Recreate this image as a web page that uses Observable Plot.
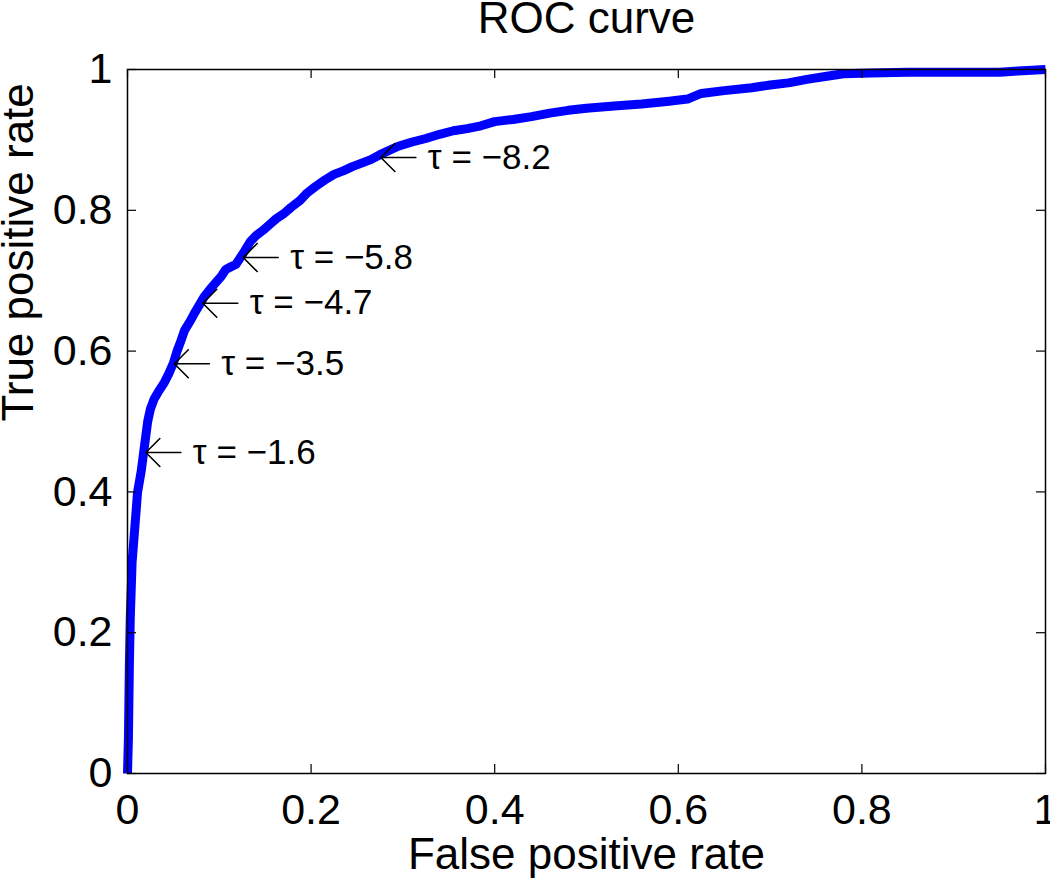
<!DOCTYPE html>
<html>
<head>
<meta charset="utf-8">
<script src="https://cdn.jsdelivr.net/npm/d3@7"></script>
<script src="https://cdn.jsdelivr.net/npm/@observablehq/plot@0.6"></script>
<style>
  html, body { margin: 0; padding: 0; background: white; }
</style>
</head>
<body>
<div id="chart"></div>
<script>
// ROC curve points (false positive rate, true positive rate)
const fpr = [0, 0.001, 0.002, 0.003, 0.005, 0.008, 0.011, 0.015, 0.018, 0.022, 0.025, 0.029, 0.033, 0.040, 0.045, 0.050, 0.054, 0.058, 0.062, 0.068, 0.073, 0.078, 0.083, 0.090, 0.096, 0.102, 0.107, 0.113, 0.118, 0.123, 0.128, 0.134, 0.140, 0.148, 0.155, 0.162, 0.170, 0.178, 0.188, 0.196, 0.205, 0.215, 0.225, 0.235, 0.245, 0.255, 0.265, 0.275, 0.285, 0.295, 0.310, 0.325, 0.340, 0.355, 0.370, 0.385, 0.400, 0.420, 0.440, 0.460, 0.480, 0.500, 0.530, 0.560, 0.590, 0.610, 0.625, 0.650, 0.680, 0.700, 0.720, 0.740, 0.760, 0.780, 0.810, 0.850, 0.900, 0.950, 0.970, 1.000];
const tpr = [0, 0.050, 0.150, 0.220, 0.300, 0.350, 0.400, 0.430, 0.460, 0.500, 0.518, 0.532, 0.541, 0.555, 0.568, 0.583, 0.600, 0.614, 0.629, 0.642, 0.654, 0.665, 0.676, 0.688, 0.697, 0.706, 0.716, 0.720, 0.723, 0.733, 0.743, 0.756, 0.764, 0.772, 0.780, 0.788, 0.795, 0.804, 0.814, 0.825, 0.834, 0.843, 0.851, 0.856, 0.862, 0.867, 0.872, 0.879, 0.885, 0.891, 0.897, 0.902, 0.908, 0.913, 0.916, 0.920, 0.926, 0.929, 0.933, 0.938, 0.942, 0.945, 0.948, 0.951, 0.955, 0.958, 0.966, 0.970, 0.974, 0.978, 0.981, 0.986, 0.990, 0.994, 0.995, 0.996, 0.996, 0.996, 0.998, 1.000];

// Threshold annotations
const tauLabels = ["τ = −1.6", "τ = −3.5", "τ = −4.7", "τ = −5.8", "τ = −8.2"];
const tauX = [0.020, 0.051, 0.082, 0.126, 0.276];
const tauY = [0.456, 0.582, 0.668, 0.733, 0.875];

// Ticks and labels
const xTicks = [0, 0.2, 0.4, 0.6, 0.8, 1];
const yTicks = [0, 0.2, 0.4, 0.6, 0.8, 1];
const titleText = "ROC curve";
const xLabel = "False positive rate";
const yLabel = "True positive rate";

const curve = fpr.map((x, i) => ({x, y: tpr[i]}));
const notes = tauLabels.map((t, i) => ({x: tauX[i], y: tauY[i], text: t}));

const W = 1050, H = 880;
const mL = 127, mR = 5, mT = 69, mB = 107;
const fw = W - mL - mR, fh = H - mT - mB;
const tickLen = 9;
const font = "'Liberation Sans', Arial, Helvetica, sans-serif";

const chart = Plot.plot({
  width: W, height: H,
  marginLeft: mL, marginRight: mR, marginTop: mT, marginBottom: mB,
  x: {domain: [0, 1]},
  y: {domain: [0, 1]},
  style: {fontFamily: font, background: "white", color: "black"},
  marks: [
    Plot.line(curve, {x: "x", y: "y", stroke: "#0000ff", strokeWidth: 9, strokeLinejoin: "round", strokeLinecap: "butt"}),
    Plot.frame({stroke: "black", strokeWidth: 1.5}),
    // inward ticks on all four sides
    Plot.ruleX(xTicks, {x: d => d, insetTop: fh - tickLen, stroke: "black", strokeWidth: 1.2}),
    Plot.ruleX(xTicks, {x: d => d, insetBottom: fh - tickLen, stroke: "black", strokeWidth: 1.2}),
    Plot.ruleY(yTicks, {y: d => d, insetRight: fw - tickLen, stroke: "black", strokeWidth: 1.2}),
    Plot.ruleY(yTicks, {y: d => d, insetLeft: fw - tickLen, stroke: "black", strokeWidth: 1.2}),
    Plot.axisX({ticks: xTicks, tickSize: 0, tickPadding: 20, fontSize: 43, tickFormat: d => String(d), label: null}),
    Plot.axisY({ticks: yTicks, tickSize: 0, tickPadding: 15, fontSize: 43, tickFormat: d => String(d), label: null}),
    // left arrows pointing at the curve
    Plot.vector(notes, {x: "x", y: "y", length: 35, r: 7, rotate: 270, anchor: "end", shape: "arrow", stroke: "black", strokeWidth: 1.6}),
    Plot.text(notes, {x: "x", y: "y", text: "text", dx: 47, textAnchor: "start", lineAnchor: "middle", fontSize: 35, fill: "black"}),
    Plot.text([titleText], {frameAnchor: "top", dy: -51, lineAnchor: "middle", fontSize: 44, fill: "black"}),
    Plot.text([xLabel], {frameAnchor: "bottom", dy: 81, lineAnchor: "middle", fontSize: 44, fill: "black"}),
    Plot.text([yLabel], {frameAnchor: "left", dx: -109, rotate: -90, lineAnchor: "middle", fontSize: 44, fill: "black"})
  ]
});
document.getElementById("chart").appendChild(chart);
</script>
</body>
</html>
